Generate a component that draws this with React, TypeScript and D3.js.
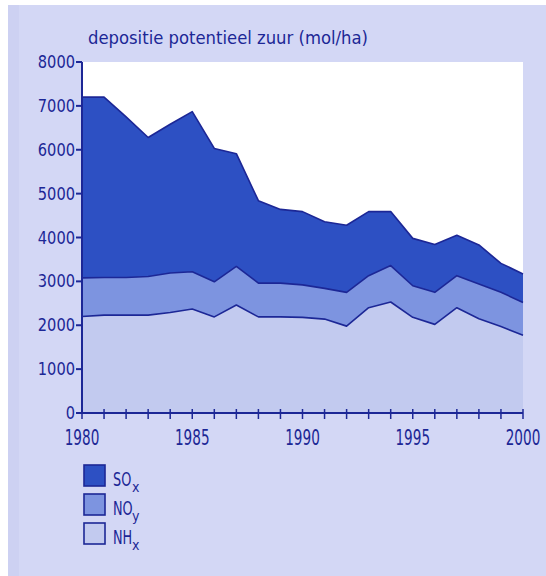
import React, { useEffect, useRef } from 'react';
import * as d3 from 'd3';

const years = d3.range(1980, 2001);
const nhx = [2200, 2230, 2230, 2230, 2290, 2370, 2190, 2460, 2190, 2190, 2180, 2140, 1980, 2400, 2530, 2180, 2020, 2400, 2150, 1970, 1770];
const nox = [880, 860, 860, 880, 900, 850, 800, 880, 770, 770, 740, 700, 770, 730, 830, 720, 730, 730, 790, 780, 750];
const sox = [4120, 4110, 3660, 3170, 3390, 3650, 3040, 2570, 1880, 1680, 1670, 1520, 1530, 1460, 1230, 1080, 1090, 920, 890, 660, 650];
const yTicks = [0, 1000, 2000, 3000, 4000, 5000, 6000, 7000, 8000];
const xLabels = [1980, 1985, 1990, 1995, 2000];
const seriesKeys = ['nhx', 'nox', 'sox'];
const legendItems = [
  { key: 'sox', main: 'SO', sub: 'x' },
  { key: 'nox', main: 'NO', sub: 'y' },
  { key: 'nhx', main: 'NH', sub: 'x' },
];
const title = 'depositie potentieel zuur (mol/ha)';

const colors: Record<string, string> = { sox: '#2d50c3', nox: '#7d94e0', nhx: '#c2caef' };
const ink = '#1c2796';
const font = "'DejaVu Sans Condensed', 'Liberation Sans Narrow', 'Liberation Sans', sans-serif";

const App: React.FC = () => {
  const svgRef = useRef<SVGSVGElement | null>(null);

  useEffect(() => {
    const svg = d3.select(svgRef.current);
    svg.selectAll('*').remove();

    const width = 546;
    const height = 576;
    const margin = { top: 62, right: 23, bottom: 163, left: 82 };

    const rows = years.map((yr, i) => ({ year: yr, nhx: nhx[i], nox: nox[i], sox: sox[i] }));

    const x = d3.scaleLinear().domain([1980, 2000]).range([margin.left, width - margin.right]);
    const y = d3.scaleLinear().domain([0, 8000]).range([height - margin.bottom, margin.top]);

    // achtergrond
    svg.append('rect').attr('x', 0).attr('y', 0).attr('width', width).attr('height', height).attr('fill', '#ffffff');
    svg.append('rect').attr('x', 8).attr('y', 5).attr('width', width - 8).attr('height', height - 5).attr('fill', '#d3d7f5');
    svg.append('rect').attr('x', 8).attr('y', 5).attr('width', 11).attr('height', height - 5).attr('fill', '#cdd1f2');
    svg.append('rect')
      .attr('x', margin.left).attr('y', margin.top)
      .attr('width', x(2000) - x(1980)).attr('height', y(0) - y(8000))
      .attr('fill', '#ffffff');

    // titel
    svg.append('text')
      .attr('x', 88).attr('y', 44)
      .attr('font-family', font).attr('font-size', 17)
      .attr('fill', ink)
      .attr('textLength', 280).attr('lengthAdjust', 'spacingAndGlyphs')
      .text(title);

    // gestapelde vlakken
    const stack = d3.stack<any>().keys(seriesKeys);
    const layers = stack(rows);
    const area = d3.area<any>()
      .x(d => x(d.data.year))
      .y0(d => y(d[0]))
      .y1(d => y(d[1]));
    const topLine = d3.line<any>()
      .x(d => x(d.data.year))
      .y(d => y(d[1]));

    svg.append('g').selectAll('path')
      .data(layers)
      .join('path')
      .attr('d', d => area(d) as string)
      .attr('fill', d => colors[d.key]);

    svg.append('g').selectAll('path')
      .data(layers)
      .join('path')
      .attr('d', d => topLine(d) as string)
      .attr('fill', 'none')
      .attr('stroke', ink)
      .attr('stroke-width', 1.6)
      .attr('stroke-linejoin', 'round');

    // assen
    const axis = svg.append('g').attr('stroke', ink).attr('stroke-width', 2);
    axis.append('line').attr('x1', x(1980)).attr('x2', x(1980)).attr('y1', y(8000)).attr('y2', y(0));
    axis.append('line').attr('x1', x(1980)).attr('x2', x(2000)).attr('y1', y(0)).attr('y2', y(0));

    axis.selectAll('line.ytick')
      .data(yTicks)
      .join('line')
      .attr('class', 'ytick')
      .attr('x1', x(1980) - 6).attr('x2', x(1980))
      .attr('y1', d => y(d)).attr('y2', d => y(d));

    axis.selectAll('line.xtick')
      .data(years)
      .join('line')
      .attr('class', 'xtick')
      .attr('stroke-width', 1.5)
      .attr('x1', d => x(d)).attr('x2', d => x(d))
      .attr('y1', y(0) - 4).attr('y2', y(0) + 6);

    svg.append('g').selectAll('text')
      .data(yTicks)
      .join('text')
      .attr('x', 75).attr('y', d => y(d) + 6)
      .attr('text-anchor', 'end')
      .attr('font-family', font).attr('font-size', 17)
      .attr('fill', ink)
      .attr('textLength', d => String(d).length * 9.3).attr('lengthAdjust', 'spacingAndGlyphs')
      .text(d => d);

    // jaartallen, horizontaal versmald
    svg.append('g').selectAll('text')
      .data(xLabels)
      .join('text')
      .attr('transform', d => `translate(${x(d)},${y(0) + 32}) scale(0.72,1)`)
      .attr('text-anchor', 'middle')
      .attr('font-family', font).attr('font-size', 21)
      .attr('fill', ink)
      .text(d => d);

    // legenda
    const legend = svg.append('g').attr('transform', 'translate(84,465)');
    const item = legend.selectAll('g')
      .data(legendItems)
      .join('g')
      .attr('transform', (_, i) => `translate(0,${i * 29})`);
    item.append('rect')
      .attr('x', 0).attr('y', 0).attr('width', 21).attr('height', 21)
      .attr('fill', d => colors[d.key])
      .attr('stroke', ink).attr('stroke-width', 1.6);
    item.append('text')
      .attr('transform', 'translate(29,21) scale(0.75,1)')
      .attr('font-family', font).attr('font-size', 19)
      .attr('fill', ink)
      .text(d => d.main);
    item.append('text')
      .attr('x', 48).attr('y', 27)
      .attr('font-family', font).attr('font-size', 14)
      .attr('fill', ink)
      .text(d => d.sub);
  }, []);

  return (
    <svg
      ref={svgRef}
      width={546}
      height={576}
      style={{ position: 'absolute', left: 0, top: 0 }}
    ></svg>
  );
};

export default App;
